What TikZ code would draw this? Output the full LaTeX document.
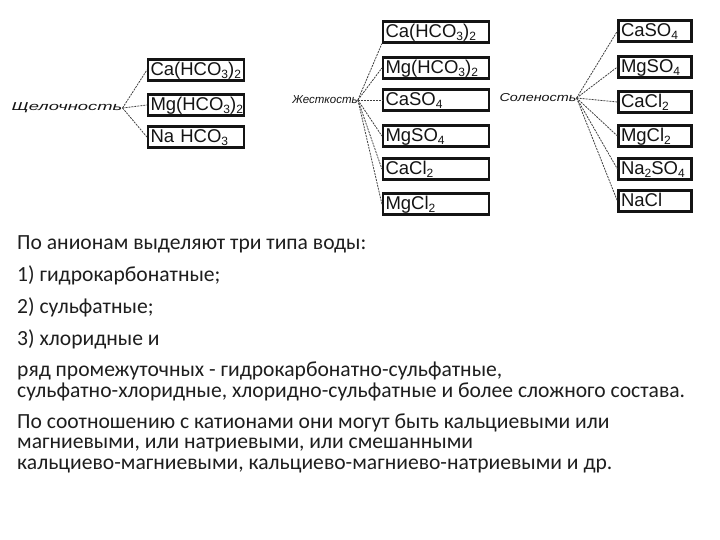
\documentclass[tikz,border=0pt]{standalone}
\usepackage{fontspec}
\setmainfont{Carlito}
\newfontfamily\scanfont{Liberation Sans}
\usepackage{graphicx}
\usetikzlibrary{positioning}
\definecolor{scanInk}{HTML}{141414}
\definecolor{scanLine}{HTML}{404040}
\definecolor{bodyText}{HTML}{1E1E1E}
\newcommand{\ix}[1]{\raisebox{-0.3ex}{\fontsize{12}{12}\selectfont #1}}

\begin{document}
\begin{tikzpicture}[
  x=1pt, y=-1pt,
  every node/.style={inner sep=0pt},
  formula/.style={
    draw=scanInk, line width=2.2pt, text=scanInk,
    font=\scanfont\fontsize{18.5}{19}\selectfont,
    inner xsep=2.5pt, inner ysep=2pt, text height=14pt, text depth=3pt,
    align=left
  },
  leftbox/.style={formula, text width=91pt},
  midbox/.style={formula, text width=101pt},
  rightbox/.style={formula, text width=68pt},
  grouplabel/.style={
    text=scanInk, font=\scanfont\itshape\fontsize{11.5}{12}\selectfont
  },
  feeder/.style={scanLine, line width=0.8pt, dash pattern=on 2pt off 1pt},
  para/.style={
    anchor=base west, text=bodyText, align=left,
    font=\fontsize{21.6}{20.5}\selectfont
  },
]
\useasboundingbox (0,0) rectangle (720,540);

% Alkalinity group
\node[grouplabel] (alk) at (67,108) {\scalebox{1.6}[1]{Щелочность}};
\node[leftbox] (alk1) at (196,70) {Ca(HCO\ix{3})\ix{2}};
\node[leftbox] (alk2) at (196,105) {Mg(HCO\ix{3})\ix{2}};
\node[leftbox] (alk3) at (196,137) {Na HCO\ix{3}};
\draw[feeder] (alk.east) -- (alk1.west);
\draw[feeder] (alk.east) -- (alk2.west);
\draw[feeder] (alk.east) -- (alk3.west);

% Hardness group
\node[grouplabel] (hard) at (325,100) {Жесткость};
\node[midbox] (hard1) at (436,32) {Ca(HCO\ix{3})\ix{2}};
\node[midbox] (hard2) at (436,68) {Mg(HCO\ix{3})\ix{2}};
\node[midbox] (hard3) at (436,100) {CaSO\ix{4}};
\node[midbox] (hard4) at (436,136) {MgSO\ix{4}};
\node[midbox] (hard5) at (436,169) {CaCl\ix{2}};
\node[midbox] (hard6) at (436,204) {MgCl\ix{2}};
\draw[feeder] (hard.east) -- (hard1.south west);
\draw[feeder] (hard.east) -- (hard2.west);
\draw[feeder] (hard.east) -- (hard3.west);
\draw[feeder] (hard.east) -- (hard4.west);
\draw[feeder] (hard.east) -- (hard5.west);
\draw[feeder] (hard.east) -- (hard6.west);

% Salinity group
\node[grouplabel] (salt) at (538,98) {\scalebox{1.25}[1]{Соленость}};
\node[rightbox] (salt1) at (655,31) {CaSO\ix{4}};
\node[rightbox] (salt2) at (655,67) {MgSO\ix{4}};
\node[rightbox] (salt3) at (655,102) {CaCl\ix{2}};
\node[rightbox] (salt4) at (655,136) {MgCl\ix{2}};
\node[rightbox] (salt5) at (655,169) {Na\ix{2}SO\ix{4}};
\node[rightbox] (salt6) at (655,201) {NaCl};
\draw[feeder] (salt.east) -- (salt1.west);
\draw[feeder] (salt.east) -- (salt2.west);
\draw[feeder] (salt.east) -- (salt3.west);
\draw[feeder] (salt.east) -- (salt4.west);
\draw[feeder] (salt.east) -- (salt5.west);
\draw[feeder] (salt.east) -- (salt6.west);

% Body text (multi-line nodes sit on their last line)
\node[para] (p1) at (17,249) {По анионам выделяют три типа воды:};
\node[para] (p2) at (17,281) {1) гидрокарбонатные;};
\node[para] (p3) at (17,313) {2) сульфатные;};
\node[para] (p4) at (17,345) {3) хлоридные и};
\node[para] (p5) at (17,397) {ряд промежуточных - гидрокарбонатно-сульфатные,\\
  сульфатно-хлоридные, хлоридно-сульфатные и более сложного состава.};
\node[para] (p6) at (17,469) {По соотношению с катионами они могут быть кальциевыми или\\
  магниевыми, или натриевыми, или смешанными\\
  кальциево-магниевыми, кальциево-магниево-натриевыми и др.};

\end{tikzpicture}
\end{document}
